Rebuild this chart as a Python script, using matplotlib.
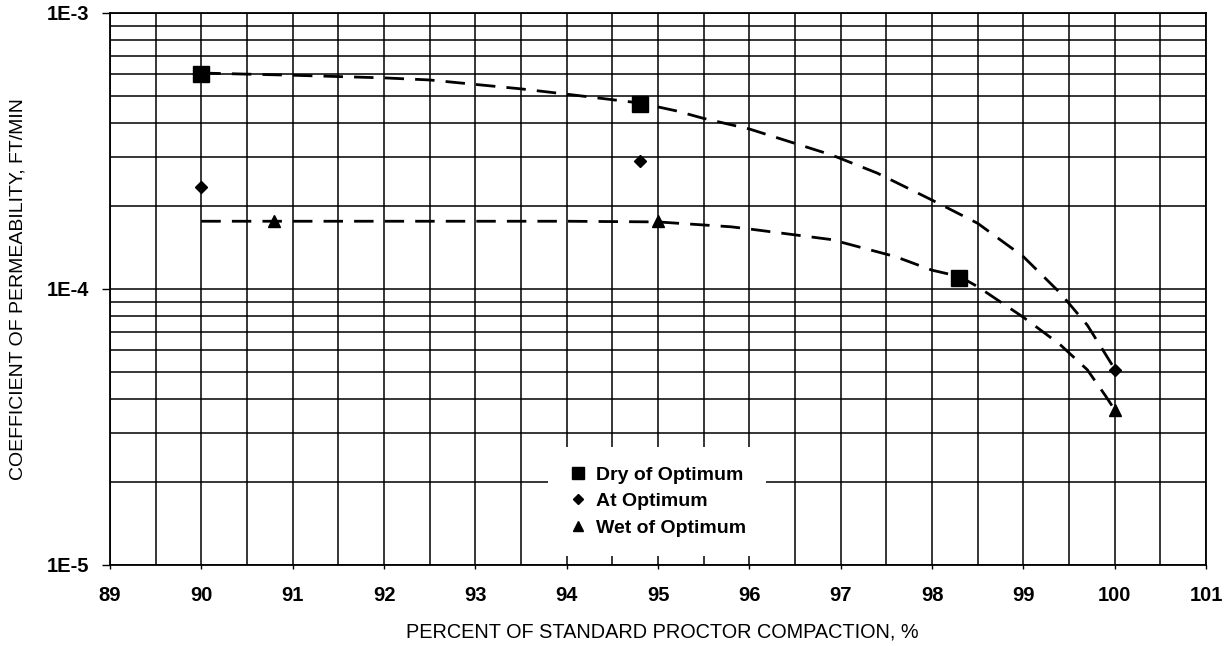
import numpy as np
import matplotlib
matplotlib.use("Agg")
import matplotlib.pyplot as plt
from matplotlib.ticker import FixedLocator, NullFormatter, FixedFormatter
from matplotlib.lines import Line2D

plt.rcParams['font.family'] = ['Liberation Sans', 'DejaVu Sans']

# measured points
dry_x = [90.0, 94.8, 98.3]
dry_k = [6.0e-4, 4.7e-4, 1.1e-4]
at_x = [90.0, 94.8, 100.0]
at_k = [2.35e-4, 2.9e-4, 5.1e-5]
wet_x = [90.8, 95.0, 100.0]
wet_k = [1.76e-4, 1.76e-4, 3.65e-5]

# hand drawn trend curves
upper_x = [90.0, 91.0, 92.0, 92.5, 93.5, 94.0, 94.8, 95.2, 95.5, 96.0, 96.9, 97.4,
           98.0, 98.5, 99.0, 99.4, 99.7, 99.9, 100.0]
upper_k = [6.06e-4, 5.95e-4, 5.82e-4, 5.72e-4, 5.31e-4, 5.08e-4, 4.72e-4, 4.42e-4, 4.15e-4,
           3.8e-4, 3.06e-4, 2.63e-4, 2.1e-4, 1.73e-4, 1.31e-4, 9.7e-5, 7.4e-5, 5.8e-5, 5.13e-5]
lower_x = [90.0, 91.0, 92.0, 93.0, 94.0, 95.0, 95.8, 96.0, 96.9, 97.6, 98.0, 98.3, 98.5,
           99.0, 99.4, 99.7, 99.9, 100.0]
lower_k = [1.76e-4, 1.76e-4, 1.76e-4, 1.76e-4, 1.76e-4, 1.75e-4, 1.68e-4, 1.65e-4, 1.51e-4,
           1.31e-4, 1.17e-4, 1.11e-4, 1.02e-4, 7.9e-5, 6.3e-5, 5.1e-5, 4.1e-5, 3.65e-5]

xticks = list(range(89, 102))
yticks = [1e-5, 1e-4, 1e-3]
ylabels = ['1E-5', '1E-4', '1E-3']

fig = plt.figure(figsize=(12.3, 6.46), dpi=100)
ax = fig.add_axes([110 / 1230, 1 - 565 / 646, 1096 / 1230, 552 / 646])

ax.set_yscale('log')
ax.set_xlim(89, 101)
ax.set_ylim(1e-5, 1e-3)

ax.xaxis.set_major_locator(FixedLocator(xticks))
ax.xaxis.set_minor_locator(FixedLocator([v + 0.5 for v in xticks[:-1]]))
ax.yaxis.set_major_locator(FixedLocator(yticks))
ax.yaxis.set_major_formatter(FixedFormatter(ylabels))
minor_y = [m * 10.0 ** e for e in (-5, -4) for m in range(2, 10)]
ax.yaxis.set_minor_locator(FixedLocator(minor_y))
ax.yaxis.set_minor_formatter(NullFormatter())

ax.grid(True, which='both', color='black', linewidth=1.1)
ax.set_axisbelow(True)
for s in ax.spines.values():
    s.set_linewidth(1.3)

ax.tick_params(axis='x', which='major', direction='out', length=3, width=1, pad=12)
ax.tick_params(axis='y', which='major', direction='out', length=6, width=1, pad=9)
ax.tick_params(which='minor', length=0)
for lab in ax.get_xticklabels() + ax.get_yticklabels():
    lab.set_fontweight('bold')
    lab.set_fontsize(14.5)

ax.plot(upper_x, upper_k, color='black', lw=2, ls=(0, (7, 4)), zorder=3)
ax.plot(lower_x, lower_k, color='black', lw=2, ls=(0, (7, 4)), zorder=3)

ax.plot(dry_x, dry_k, ls='none', marker='s', ms=11, color='black', zorder=4)
ax.plot(at_x, at_k, ls='none', marker='D', ms=6, color='black', zorder=4)
ax.plot(wet_x, wet_k, ls='none', marker='^', ms=8, color='black', zorder=4)

ax.set_xlabel('PERCENT OF STANDARD PROCTOR COMPACTION, %', fontsize=14.3)
ax.set_ylabel('COEFFICIENT OF PERMEABILITY, FT/MIN', fontsize=14)
ax.xaxis.set_label_coords(0.504, -0.104)
ax.yaxis.set_label_coords(-0.076, 0.5)

handles = [
    Line2D([], [], ls='none', marker='s', ms=8, color='black'),
    Line2D([], [], ls='none', marker='D', ms=5.5, color='black'),
    Line2D([], [], ls='none', marker='^', ms=7.5, color='black'),
]
leg = ax.legend(handles, ['Dry of Optimum', 'At Optimum', 'Wet of Optimum'],
                loc='upper left', bbox_to_anchor=(0.40, 0.214), frameon=True,
                fancybox=False, framealpha=1, edgecolor='none', facecolor='white',
                prop={'weight': 'bold', 'size': 14}, handletextpad=0.45,
                handlelength=1.0, labelspacing=0.45, borderpad=1.0, borderaxespad=0)
leg.set_zorder(5)

fig.savefig('out.png', dpi=100)
